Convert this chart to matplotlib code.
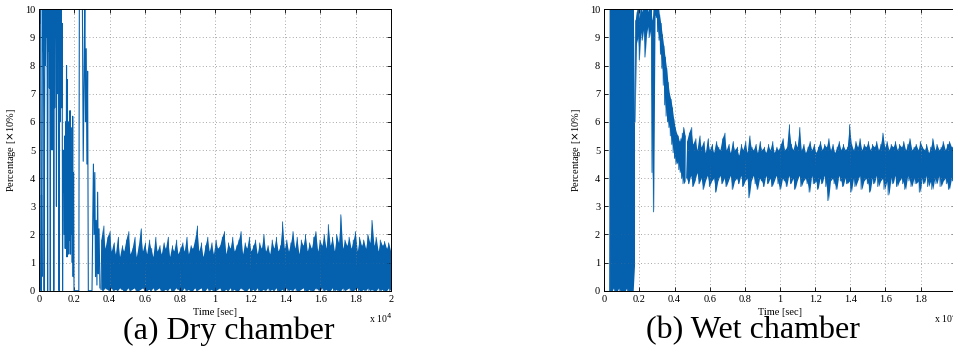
import numpy as np
import matplotlib
matplotlib.use("Agg")
import matplotlib.pyplot as plt

# time axis in units of 1e4 sec
# ---- (a) dry chamber
# start-up transient 0 .. 0.2, one reading every 0.0025
dry_start = [9.8, 10.5, 9.5, 10.5, 0.0, 3.4, 0.5, 10.5, 8.5, 10.5,
             6.2, 0.0, 6.2, 10.5, 8.0, 10.5, 9.0, 10.5, 7.5, 0.0,
             10.5, 8.5, 10.5, 7.2, 10.5, 0.0, 10.5, 6.5, 10.5, 5.0,
             10.5, 8.0, 10.5, 0.0, 10.5, 6.5, 10.5, 9.0, 10.5, 3.0,
             10.5, 7.0, 10.5, 8.5, 10.5, 0.0, 10.5, 6.0, 10.5, 7.5,
             10.5, 6.5, 9.5, 0.0, 5.0, 3.5, 4.5, 2.0, 5.5, 1.5,
             6.0, 2.5, 8.0, 1.2, 7.5, 1.4, 6.0, 1.3, 5.5, 1.8,
             6.4, 1.3, 5.8, 2.0, 4.5, 1.0, 6.2, 0.5, 4.2, 0.0,
             0.0]
# 0.2 .. 0.35
dry_mid_t = [0.225, 0.228, 0.232, 0.245, 0.250, 0.255, 0.259, 0.263, 0.267, 0.271,
             0.275, 0.279, 0.283, 0.300, 0.304, 0.308, 0.312, 0.316, 0.320, 0.324,
             0.328, 0.332, 0.336, 0.340, 0.345]
dry_mid_y = [0.0, 10.5, 10.5, 10.5, 4.6, 7.5, 10.5, 6.0, 8.6, 4.5,
             7.8, 0.0, 0.0, 0.0, 2.3, 4.5, 2.0, 4.2, 0.5, 2.5,
             0.2, 3.5, 0.6, 2.2, 0.1]
# steady part 0.35 .. 2.0: local peaks and troughs of the noise
dry_hi = [1.8, 2.3, 1.5, 1.9, 2.1, 1.4, 1.7, 1.3, 1.9, 1.2,
          1.6, 1.4, 1.8, 2.1, 1.3, 1.5, 1.9, 1.2, 1.6, 2.2,
          1.4, 1.7, 1.3, 1.8, 1.5, 1.2, 1.9, 1.4, 1.6, 1.3,
          1.7, 1.5, 1.9, 1.2, 1.6, 1.4, 1.8, 1.3, 1.5, 1.7,
          1.4, 1.9, 1.3, 1.6, 1.5, 1.8, 2.3, 1.4, 1.7, 1.2,
          1.6, 1.9, 1.4, 1.7, 1.3, 1.8, 1.5, 1.6, 1.9, 2.1,
          1.3, 1.7, 1.5, 1.9, 1.4, 1.6, 1.8, 2.1, 1.3, 1.7,
          1.5, 1.9, 1.4, 1.6, 1.8, 1.3, 1.7, 1.5, 2.0, 1.4,
          1.6, 1.3, 1.8, 1.5, 1.9, 1.4, 1.6, 2.45, 1.5, 1.8,
          1.4, 1.7, 2.1, 1.5, 1.9, 1.3, 1.8, 1.6, 2.0, 1.4,
          1.7, 1.5, 1.9, 2.1, 1.4, 1.8, 1.6, 2.0, 1.5, 2.35,
          1.6, 1.9, 1.4, 2.0, 1.7, 2.7, 1.5, 1.8, 1.6, 1.9,
          1.5, 1.8, 2.1, 1.4, 1.9, 1.6, 1.8, 1.5, 2.0, 1.7,
          2.5, 1.6, 1.9, 1.4, 1.8, 1.6, 1.75, 1.5, 1.7, 1.4]
dry_lo = [0.05, 0.0, 0.1, 0.05, 0.0, 0.1, 0.0, 0.05, 0.0, 0.1,
          0.05, 0.0, 0.0, 0.1, 0.0, 0.05, 0.1, 0.0, 0.0, 0.05,
          0.1, 0.0, 0.0, 0.05, 0.0, 0.1, 0.0, 0.05, 0.1, 0.0,
          0.0, 0.05, 0.0, 0.1, 0.0, 0.0, 0.1, 0.05, 0.0, 0.0,
          0.1, 0.0, 0.05, 0.0, 0.0, 0.1, 0.0, 0.05, 0.1, 0.0,
          0.0, 0.1, 0.0, 0.05, 0.0, 0.0, 0.05, 0.1, 0.0, 0.0,
          0.05, 0.0, 0.1, 0.0, 0.05, 0.0, 0.0, 0.1, 0.05, 0.0,
          0.0, 0.1, 0.0, 0.05, 0.0, 0.1, 0.0, 0.0, 0.05, 0.0,
          0.1, 0.0, 0.05, 0.0, 0.1, 0.0, 0.0, 0.05, 0.0, 0.1,
          0.0, 0.05, 0.0, 0.1, 0.0, 0.0, 0.05, 0.1, 0.0, 0.0,
          0.05, 0.0, 0.0, 0.1, 0.05, 0.0, 0.1, 0.0, 0.05, 0.0,
          0.0, 0.1, 0.0, 0.05, 0.0, 0.0, 0.1, 0.0, 0.05, 0.1,
          0.0, 0.0, 0.05, 0.1, 0.0, 0.0, 0.05, 0.0, 0.1, 0.0,
          0.05, 0.0, 0.0, 0.1, 0.0, 0.05, 0.0, 0.0, 0.1, 0.0]

# ---- (b) wet chamber
# saturated block 0.03 .. 0.172 (troughs / peaks)
wet_block_lo = [0.0, 0.0, 0.0, 0.1, 0.0, 0.0, 0.0, 0.1, 0.0, 0.0,
                0.0, 0.0, 0.0, 0.1, 0.0, 0.0, 0.0, 0.0, 0.0, 0.9]
wet_block_hi = [10.5, 10.5, 10.5, 10.5, 10.5, 10.5, 10.5, 10.5, 10.5, 10.5,
                10.5, 10.5, 10.5, 10.5, 10.5, 10.5, 10.5, 10.5, 10.5, 5.9]
# plateau, dip and decay 0.175 .. 0.46
wet_mid_lo = [6.0, 8.8, 9.0, 8.2, 9.2, 8.9, 9.3, 8.3, 9.1, 9.4,
              9.0, 9.3, 4.2, 2.8, 9.8, 9.7, 9.2, 8.9, 8.4, 7.9,
              7.3, 6.6, 6.2, 6.0, 5.8, 5.5, 5.2, 4.9, 4.7, 4.5,
              4.6, 4.3, 4.2, 4.0, 3.8, 3.9]
wet_mid_hi = [9.6, 9.9, 10.3, 9.7, 10.4, 9.9, 10.2, 10.1, 10.4, 9.9,
              10.3, 10.0, 9.6, 10.2, 10.5, 10.5, 10.3, 9.8, 9.5, 9.1,
              8.7, 8.3, 7.9, 7.4, 7.0, 6.8, 6.5, 6.1, 5.8, 5.6,
              5.5, 5.3, 5.4, 5.6, 5.8, 5.5]
# steady part 0.46 .. 2.0
wet_hi = [5.3, 5.6, 5.8, 5.2, 5.4, 5.0, 5.5, 5.1, 5.3, 4.9,
          5.4, 5.0, 5.2, 4.9, 5.3, 5.1, 5.0, 5.4, 5.6, 5.0,
          5.2, 4.9, 5.3, 5.0, 5.1, 4.8, 5.2, 5.0, 5.3, 4.9,
          5.5, 5.1, 5.0, 5.2, 4.9, 5.3, 5.0, 5.1, 4.9, 5.2,
          5.0, 5.3, 4.9, 5.1, 5.0, 5.2, 5.4, 5.0, 5.1, 5.9,
          5.2, 5.0, 5.3, 5.1, 5.8, 5.0, 5.2, 4.9, 5.1, 5.3,
          5.0, 5.2, 4.9, 5.1, 5.3, 5.0, 5.2, 5.1, 5.4, 5.0,
          5.2, 4.9, 5.1, 5.3, 5.0, 5.2, 5.0, 5.1, 5.9, 5.2,
          5.0, 5.3, 5.1, 5.4, 5.0, 5.2, 5.1, 5.3, 5.0, 5.2,
          5.1, 5.3, 5.0, 5.2, 5.6, 5.1, 5.3, 5.0, 5.2, 5.1,
          5.3, 5.0, 5.2, 5.1, 5.3, 5.0, 5.2, 5.4, 5.0, 5.1,
          5.2, 5.0, 5.3, 5.1, 5.0, 5.2, 4.9, 5.1, 5.4, 5.0,
          5.2, 5.0, 5.1, 5.3, 5.0, 5.2, 5.3, 5.1, 5.2, 5.0]
wet_lo = [4.0, 3.8, 4.1, 3.7, 3.9, 4.2, 3.8, 4.0, 3.6, 3.9,
          4.1, 3.7, 3.9, 4.0, 3.5, 3.9, 4.1, 3.8, 4.0, 3.7,
          3.9, 4.1, 3.6, 3.9, 4.0, 3.8, 4.1, 3.7, 3.9, 4.0,
          3.3, 3.9, 4.1, 3.8, 3.6, 4.0, 3.9, 3.7, 4.1, 3.8,
          4.0, 3.7, 3.9, 4.1, 3.8, 3.6, 4.0, 3.9, 3.7, 4.1,
          3.8, 4.0, 3.6, 3.9, 4.1, 3.7, 3.9, 4.0, 3.8, 3.5,
          4.1, 3.8, 3.9, 3.6, 4.0, 3.8, 4.1, 3.7, 3.2, 3.9,
          4.0, 3.8, 3.6, 4.1, 3.9, 3.7, 4.0, 3.8, 3.9, 3.5,
          4.0, 3.7, 3.9, 4.1, 3.6, 3.9, 4.0, 3.8, 3.5, 4.0,
          3.8, 4.1, 3.7, 3.9, 4.0, 3.6, 3.9, 3.4, 4.0, 3.8,
          4.1, 3.7, 3.9, 4.0, 3.8, 3.6, 4.1, 3.9, 3.7, 4.0,
          3.8, 3.9, 3.5, 4.0, 3.8, 4.1, 3.7, 3.9, 3.6, 4.0,
          3.8, 4.1, 3.7, 3.9, 4.0, 3.8, 3.6, 4.0, 3.9, 4.1]

xticks = [0, 0.2, 0.4, 0.6, 0.8, 1.0, 1.2, 1.4, 1.6, 1.8, 2.0]
xticklabels = ["0", "0.2", "0.4", "0.6", "0.8", "1", "1.2", "1.4", "1.6", "1.8", "2"]
yticks = list(range(0, 11))
captions = ["(a) Dry chamber", "(b) Wet chamber"]

LINE = "#0560ad"
SERIF = "Liberation Serif"


def zigzag(lo, hi):
    # alternate trough / peak readings
    return np.column_stack([lo, hi]).ravel()


# noisy bands: (start, end, troughs, peaks)
dry_bands = [(0.35, 2.0, dry_lo, dry_hi)]
wet_bands = [(0.03, 0.172, wet_block_lo, wet_block_hi),
             (0.175, 0.46, wet_mid_lo, wet_mid_hi),
             (0.468, 2.0, wet_lo, wet_hi)]

# line segments that are not bands
dry_t = np.concatenate([np.linspace(0, 0.2, len(dry_start)), dry_mid_t])
dry_y = np.concatenate([dry_start, dry_mid_y])
wet_t = [0.0, 0.03]
wet_y = [0.0, 0.0]

plt.rcParams['font.family'] = SERIF
fig = plt.figure(figsize=(9.54, 3.57), dpi=100)

ax_w = 351.4 / 954
ax_h = 281.4 / 357
ax_b = (357 - 290.7) / 357
axes = [fig.add_axes([39.3 / 954, ax_b, ax_w, ax_h]),
        fig.add_axes([604.3 / 954, ax_b, ax_w, ax_h])]

panels = zip(axes, [dry_t, wet_t], [dry_y, wet_y], [dry_bands, wet_bands],
             captions, [229, 753])
for ax, t, y, bands, cap, cx in panels:
    ax.plot(t, y, color=LINE, linewidth=0.8)
    for t0, t1, lo, hi in bands:
        tb = np.linspace(t0, t1, len(hi))
        ax.fill_between(tb, lo, hi, color=LINE, linewidth=0)
        ax.plot(np.linspace(t0, t1, 2 * len(hi)), zigzag(lo, hi),
                color=LINE, linewidth=0.6)
    ax.set_xlim(0, 2)
    ax.set_ylim(0, 10)
    ax.set_xticks(xticks)
    ax.set_xticklabels(xticklabels)
    ax.set_yticks(yticks)
    ax.grid(True, linestyle=(0, (1, 3)), color="#8a8a8a", linewidth=0.6)
    ax.tick_params(direction="in", length=3, width=0.6, labelsize=7.5,
                   top=True, right=True, pad=3)
    for s in ax.spines.values():
        s.set_linewidth(0.7)
    ax.set_xlabel("Time [sec]", fontsize=7.5, labelpad=3)
    ax.set_ylabel("Percentage [$\\times$10%]", fontsize=7.5, labelpad=5)
    ax.text(1.004, -0.097, "x 10$^4$", transform=ax.transAxes, ha="right",
            va="center", fontsize=7)
    fig.text(cx / 954, (357 - 331) / 357, cap, ha="center", va="center", fontsize=23)

fig.savefig("out.png", dpi=100)
